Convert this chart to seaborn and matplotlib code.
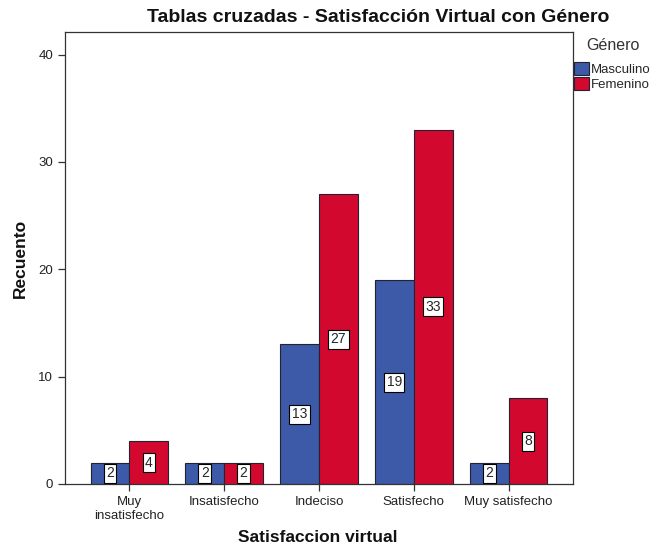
import pandas as pd
import matplotlib.pyplot as plt
import seaborn as sns

# Datos
categorias = ['Muy\ninsatisfecho', 'Insatisfecho', 'Indeciso', 'Satisfecho', 'Muy satisfecho']
masculino = [2, 2, 13, 19, 2]
femenino = [4, 2, 27, 33, 8]
generos = ['Masculino', 'Femenino']
colores = ['#3D5AA8', '#D3082F']

df = pd.DataFrame({
    'Satisfaccion': categorias * 2,
    'Genero': [generos[0]] * len(categorias) + [generos[1]] * len(categorias),
    'Recuento': masculino + femenino,
})

sns.set_style('ticks')
plt.rcParams['font.family'] = ['Liberation Sans', 'DejaVu Sans']

fig = plt.figure(figsize=(6.51, 5.45), dpi=100)
ax = fig.add_axes([65 / 651, 61 / 545, 508 / 651, 452 / 545])

sns.barplot(data=df, x='Satisfaccion', y='Recuento', hue='Genero',
            order=categorias, hue_order=generos, palette=colores, saturation=1,
            width=0.82, edgecolor='#222233', linewidth=0.8, ax=ax)

for cont in ax.containers:
    ax.bar_label(cont, label_type='center', fontsize=10,
                 bbox=dict(facecolor='white', edgecolor='black', linewidth=0.8, pad=1.8))

ax.set_xlim(-0.68, 4.68)
ax.set_ylim(0, 42.1)
ax.set_yticks([0, 10, 20, 30, 40])
for s in ax.spines.values():
    s.set_visible(True)
    s.set_color('#333333')
    s.set_linewidth(0.9)
ax.tick_params(axis='both', labelsize=9.5, colors='#333333', length=5, width=0.9, labelcolor='#222222')

ax.set_xlabel('')
ax.set_ylabel('')
fig.text(318 / 651, 1 - 538 / 545, 'Satisfaccion virtual', fontsize=12.5, fontweight='bold',
         ha='center', va='center', color='#111111')
fig.text(20 / 651, 1 - 258 / 545, 'Recuento', fontsize=12.5, fontweight='bold',
         rotation=90, ha='center', va='center', color='#111111')
fig.text(378 / 651, 1 - 18 / 545, 'Tablas cruzadas - Satisfacción Virtual con Género',
         fontsize=14, fontweight='bold', ha='center', va='center', color='#111111')

# leyenda a la derecha, fuera del área de trazado
fig.text(586 / 651, 1 - 46 / 545, 'Género', fontsize=11.5, ha='left', va='center', color='#333333')
leg = ax.legend(loc='upper left', bbox_to_anchor=(574 / 651, 1 - 62 / 545),
                bbox_transform=fig.transFigure, frameon=False, fontsize=9.5,
                handlelength=1.1, handleheight=1.1, handletextpad=0.15,
                labelspacing=0.1, borderaxespad=0, borderpad=0)

plt.savefig('out.png', dpi=100)
